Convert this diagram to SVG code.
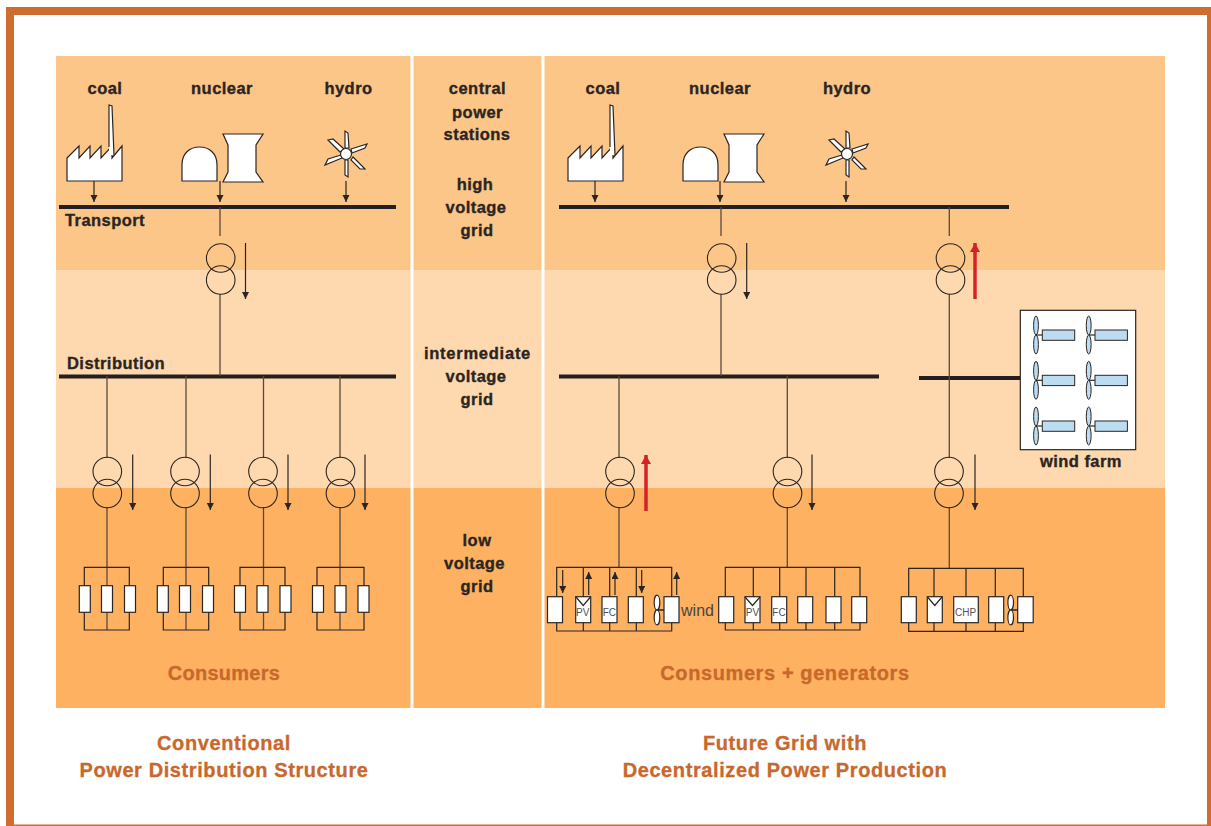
<svg xmlns="http://www.w3.org/2000/svg" width="1211" height="826" viewBox="0 0 1211 826">
<style>
text{font-family:"Liberation Sans",Arial,sans-serif}
.lb{font-size:16.500px;font-weight:700;fill:#2b2522;stroke:#2b2522;stroke-width:.35;letter-spacing:.45px;text-anchor:middle}
.or{font-size:20px;font-weight:700;fill:#c8682c;stroke:#c8682c;stroke-width:.3;letter-spacing:.6px;text-anchor:middle}
.sm{font-size:10px;fill:#55504b;text-anchor:middle}
.bus{stroke:#231f20;stroke-width:4;fill:none}
.ln{stroke:#5a4a3c;stroke-width:1.300;fill:none}
.bl{stroke:#2b2522;stroke-width:1.200;fill:none}
.wh{fill:#fff;stroke:#2b2522;stroke-width:1.200}
.ring{fill:none;stroke:#2b2522;stroke-width:1.100}
.ar path{stroke:#2b2522;stroke-width:1.200;fill:none;marker-end:url(#ah)}
.red path{stroke:#d3222a;stroke-width:3.500;fill:none;marker-end:url(#ahr)}
.blade{fill:#bcdcf2;stroke:#2b2522;stroke-width:1}
</style>
<defs>
<marker id="ah" markerUnits="userSpaceOnUse" markerWidth="8" markerHeight="8" refX="7" refY="3.500" orient="auto"><path d="M0 0L7 3.500L0 7Z" fill="#2b2522" stroke="none" style="marker-end:none"/></marker>
<marker id="ahr" markerUnits="userSpaceOnUse" markerWidth="10" markerHeight="11" refX="9" refY="5" orient="auto"><path d="M0 0L9 5L0 10Z" fill="#d3222a" stroke="none" style="marker-end:none"/></marker>
<g id="coal"><path class="wh" d="M0 53L12 41V53L23 41V53L34 41V53L45 41V53L55 41V76H0Z"/><path d="M42 0L45 1L47 50L42 50Z" fill="#fff"/><path class="bl" d="M42 42V0L45 1L47 50"/></g>
<g id="nuke"><path class="wh" d="M0 46V30C0 18 8 12 17.500 12C27 12 35 18 35 30V46Z"/><path class="wh" d="M41 -1H81L74 10V37L81 47H41L46 37V10Z"/></g>
<g id="hydro"><path class="wh" d="M-1 -6V-23L2 -21L3 -6Z"/><path class="wh" d="M-1 6H2V23L-1 21Z"/><path class="wh" d="M-6 -2L-18 -14L-13 -15L-2 -5Z"/><path class="wh" d="M5 -5L21 -10L19 -6L6 -1Z"/><path class="wh" d="M-5 1L-18 5L-21 11L-4 4Z"/><path class="wh" d="M7 3L19 15L14 15L5 6Z"/><circle class="wh" cx="0" cy="0" r="5.500"/></g>
<g id="xf"><circle class="ring" cx="0" cy="-22" r="14.300"/><circle class="ring" cx="0" cy="0" r="14.300"/></g>
<g id="turb"><ellipse class="blade" cx="0" cy="-9.500" rx="2.400" ry="9.500"/><ellipse class="blade" cx="0" cy="9.500" rx="2.400" ry="9.500"/><path class="bl" d="M0 0H6.300"/><rect class="blade" x="6.300" y="-5" width="32.400" height="10.300"/></g>
<g id="fan"><ellipse cx="0" cy="-7.400" rx="2.800" ry="7.400" class="wh"/><ellipse cx="0" cy="7.400" rx="2.800" ry="7.400" class="wh"/><path d="M0 0H7" stroke="#2b2522" stroke-width="1.500"/></g>
</defs>
<rect width="1211" height="826" fill="#fff"/>
<g id="frame" fill="#cf6c2f">
<rect x="6" y="7" width="8" height="819"/><rect x="6" y="7" width="1205" height="8"/><rect x="1207" y="7" width="4" height="819"/><rect x="6" y="824.500" width="1205" height="1.500"/>
</g>
<g id="bands">
<rect x="56" y="56" width="1109" height="214" fill="#fdc689"/>
<rect x="56" y="270" width="1109" height="218" fill="#fed9b0"/>
<rect x="56" y="488" width="1109" height="220" fill="#fdb161"/>
<rect x="410.500" y="56" width="3" height="652" fill="#fff"/>
<rect x="541.500" y="56" width="3" height="652" fill="#fff"/>
</g>
<g id="connectors">
<path class="bus" d="M59 207H396M59 376.500H396M559 207H1009M559 376.500H879M919 378H1021"/>
<path class="ln" d="M220 207V236M220 294V376M107 376V458M186 376V458M263.500 376V458M340 376V458M107 507V630M186 507V630M263.500 507V630M340 507V630"/>
<path class="ln" d="M721 207V236M721 294V376M949.300 207V236M949.300 294V458M619 376V458M787.300 376V458M619 507V567M787.300 507V567M949.300 507V568"/>
<g class="ar">
<path d="M94 181V202"/><path d="M220 181V202"/><path d="M346 181V202"/><path d="M245.500 243V299"/>
<path d="M132.700 454.500V510"/><path d="M210.300 454.500V510"/><path d="M288 454.500V510"/><path d="M365 454.500V510"/>
<path d="M595 181V202"/><path d="M720 181V202"/><path d="M846 181V202"/><path d="M746.700 243V299"/>
<path d="M812 454.500V510"/><path d="M975 454.500V510"/><path d="M562.700 570V593"/><path d="M641.700 570V593"/>
<path d="M588.700 595V572"/><path d="M615 595V572"/><path d="M676.700 595V572"/>
</g>
<g class="red"><path d="M975 299V243"/><path d="M646 511V455"/></g>
<path class="bl" d="M84.300 567.300H129.300V630H84.300ZM163.300 567.300H208.700V630H163.300ZM240 567.300H285V630H240ZM317 567.300H364V630H317Z"/>
<path class="bl" d="M556.700 567.300H671.700V631H556.700ZM583.300 567.300V631M609.700 567.300V631M636.300 567.300V631"/>
<path class="bl" d="M725.300 567.300H860V630H725.300ZM753.300 567.300V630M779.700 567.300V630M806 567.300V630M834.700 567.300V630"/>
<path class="bl" d="M908.700 568.300H1023.300V631.300H908.700ZM934 568.300V631.300M966 568.300V631.300M995.300 568.300V631.300"/>
</g>
<g id="text-labels">
<text class="lb" x="105" y="94">coal</text><text class="lb" x="222" y="94">nuclear</text><text class="lb" x="348.500" y="94">hydro</text>
<text class="lb" x="603" y="94">coal</text><text class="lb" x="720" y="94">nuclear</text><text class="lb" x="847" y="94">hydro</text>
<text class="lb" x="477.500" y="94">central</text><text class="lb" x="477.500" y="118">power</text><text class="lb" x="477" y="140">stations</text>
<text class="lb" x="475" y="190">high</text><text class="lb" x="476" y="213">voltage</text><text class="lb" x="477" y="236">grid</text>
<text class="lb" x="477.500" y="359" style="letter-spacing:.75px">intermediate</text><text class="lb" x="476" y="382">voltage</text><text class="lb" x="477" y="405">grid</text>
<text class="lb" x="477" y="546">low</text><text class="lb" x="474.500" y="569">voltage</text><text class="lb" x="477" y="592">grid</text>
<text class="lb" x="105" y="226">Transport</text><text class="lb" x="116" y="369">Distribution</text>
<text class="lb" x="1081" y="467">wind farm</text>
<text class="or" x="224" y="680" style="letter-spacing:.25px">Consumers</text><text class="or" x="785" y="680">Consumers + generators</text>
<text class="or" x="224" y="750">Conventional</text><text class="or" x="224" y="777">Power Distribution Structure</text>
<text class="or" x="785" y="750">Future Grid with</text><text class="or" x="785" y="777">Decentralized Power Production</text>
</g>
<g id="coal-l"><use href="#coal" x="67" y="105"/></g>
<g id="nuke-l"><use href="#nuke" x="182" y="135"/></g>
<g id="hydro-l"><use href="#hydro" x="346" y="154"/></g>
<g id="coal-r"><use href="#coal" x="568" y="105"/></g>
<g id="nuke-r"><use href="#nuke" x="683" y="135"/></g>
<g id="hydro-r"><use href="#hydro" x="847" y="154"/></g>
<g id="xfmrs">
<use href="#xf" x="220.700" y="280"/><use href="#xf" x="107.300" y="493.500"/><use href="#xf" x="185" y="493.500"/><use href="#xf" x="263" y="493.500"/><use href="#xf" x="340.500" y="493.500"/>
<use href="#xf" x="721.700" y="280"/><use href="#xf" x="950.500" y="280"/><use href="#xf" x="620" y="493.500"/><use href="#xf" x="787.500" y="493.500"/><use href="#xf" x="949" y="493.500"/>
</g>
<g id="loads-left">
<rect class="wh" x="79.300" y="585.700" width="11" height="26.600"/><rect class="wh" x="101.500" y="585.700" width="11" height="26.600"/><rect class="wh" x="124.500" y="585.700" width="11" height="26.600"/>
<rect class="wh" x="157.300" y="585.700" width="11" height="26.600"/><rect class="wh" x="179.500" y="585.700" width="11" height="26.600"/><rect class="wh" x="202.500" y="585.700" width="11" height="26.600"/>
<rect class="wh" x="234.500" y="585.700" width="11" height="26.600"/><rect class="wh" x="257" y="585.700" width="11" height="26.600"/><rect class="wh" x="280" y="585.700" width="11" height="26.600"/>
<rect class="wh" x="312.500" y="585.700" width="11" height="26.600"/><rect class="wh" x="335" y="585.700" width="11" height="26.600"/><rect class="wh" x="358" y="585.700" width="11" height="26.600"/>
</g>
<g id="loads-r1">
<rect class="wh" x="547.500" y="596.700" width="15" height="26"/>
<rect class="wh" x="575.700" y="596.700" width="15" height="26"/><path class="bl" d="M576 597L583.200 605.500L590.500 597"/><text class="sm" x="582.700" y="615.700">PV</text>
<rect class="wh" x="602" y="596.700" width="15" height="26"/><text class="sm" x="609.300" y="615.700">FC</text>
<rect class="wh" x="628.300" y="596.700" width="15" height="26"/>
<rect class="wh" x="664" y="596.700" width="15" height="26"/><use href="#fan" x="657" y="610"/>
<text x="697.500" y="615.700" font-size="16" fill="#4a4540" text-anchor="middle">wind</text>
</g>
<g id="loads-r2">
<rect class="wh" x="718.700" y="596.700" width="15" height="26"/>
<rect class="wh" x="745" y="596.700" width="15" height="26"/><path class="bl" d="M745 597L752.500 605.500L760 597"/><text class="sm" x="752.500" y="615.700">PV</text>
<rect class="wh" x="771.700" y="596.700" width="15" height="26"/><text class="sm" x="779" y="615.700">FC</text>
<rect class="wh" x="797.700" y="596.700" width="15" height="26"/>
<rect class="wh" x="826" y="596.700" width="15" height="26"/>
<rect class="wh" x="851.700" y="596.700" width="15" height="26"/>
</g>
<g id="loads-r3">
<rect class="wh" x="901.300" y="596.700" width="15" height="26"/>
<rect class="wh" x="927.300" y="596.700" width="15" height="26"/><path class="bl" d="M927.500 597L934.800 605.500L942 597"/>
<rect class="wh" x="953.700" y="596.700" width="24.600" height="26"/><text class="sm" x="965.500" y="615.700">CHP</text>
<rect class="wh" x="988.700" y="596.700" width="15" height="26"/>
<rect class="wh" x="1017.700" y="596.700" width="15.500" height="26"/><use href="#fan" x="1010.700" y="610"/>
</g>
<g id="wind-farm">
<rect x="1020.300" y="310.300" width="115.400" height="139.400" fill="#fff" stroke="#2b2522" stroke-width="1.200"/>
<use href="#turb" x="1036" y="335"/><use href="#turb" x="1088.700" y="335"/>
<use href="#turb" x="1036" y="380.300"/><use href="#turb" x="1088.700" y="380.300"/>
<use href="#turb" x="1036" y="426"/><use href="#turb" x="1088.700" y="426"/>
</g>
</svg>
